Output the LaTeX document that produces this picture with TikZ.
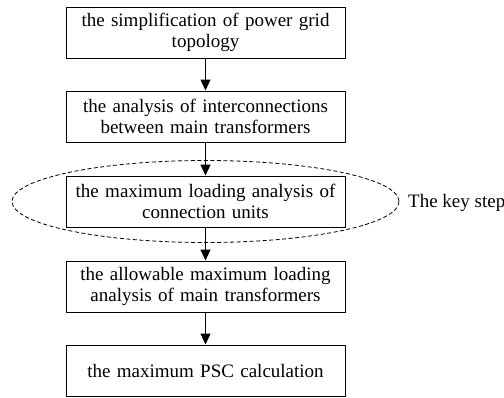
\documentclass[tikz,border=0pt]{standalone}
\usepackage{fontspec}
\setmainfont{Liberation Serif}
\usetikzlibrary{arrows.meta}

\tikzset{
  stepbox/.style={draw, line width=1pt, minimum width=279pt, minimum height=51pt,
    inner xsep=0pt, inner ysep=0pt, text width=279pt, align=center},
  flow/.style={line width=1pt, -{Triangle[length=11pt, width=10pt]}},
}

\begin{document}
\begin{tikzpicture}[x=1pt, y=-1pt, font=\fontsize{19}{21.5}\selectfont]
					\useasboundingbox (0,0) rectangle (504,397);
					\node[stepbox] (s1) at (205.5, 32.5) {the simplification of power grid\\topology};
					\node[stepbox] (s2) at (205.5,116.5) {the analysis of interconnections\\between main transformers};
					\node[stepbox] (s3) at (205.5,201.5) {the maximum loading analysis of\\connection units};
					\node[stepbox] (s4) at (205.5,286.5) {the allowable maximum loading\\analysis of main transformers};
					\node[stepbox] (s5) at (205.5,370.5) {the maximum PSC calculation};
					\draw[dash pattern=on 4pt off 2.5pt, line width=0.8pt] (s3.center) ellipse [x radius=193.5, y radius=41];
					\node[anchor=west, inner sep=0pt] (key) at (408,203) {The key step};
					\foreach \a/\b in {s1/s2, s2/s3, s3/s4, s4/s5} \draw[flow] (\a) -- (\b);
\end{tikzpicture}
\end{document}
